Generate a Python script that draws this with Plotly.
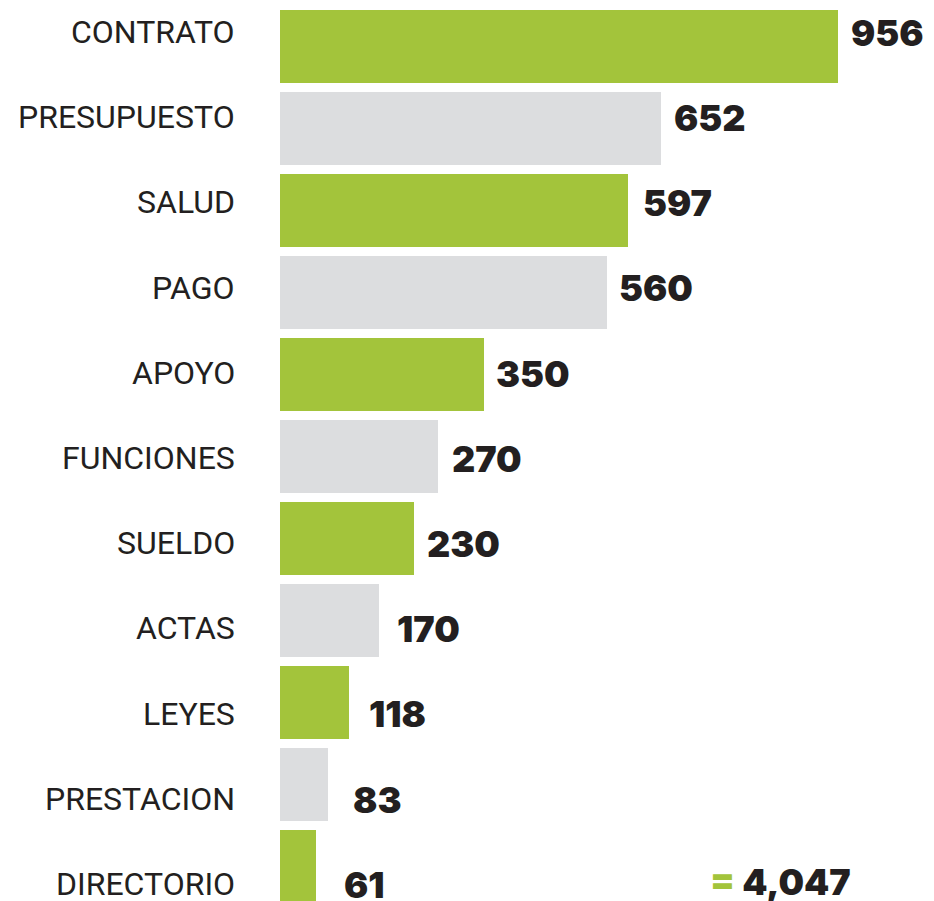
import plotly.graph_objects as go

# word counts
categories = ["CONTRATO", "PRESUPUESTO", "SALUD", "PAGO", "APOYO", "FUNCIONES",
              "SUELDO", "ACTAS", "LEYES", "PRESTACION", "DIRECTORIO"]
values = [956, 652, 597, 560, 350, 270, 230, 170, 118, 83, 61]

GREEN = "#a3c43b"
GRAY = "#dcdddf"
DARK = "#231f20"
colors = [GREEN if i % 2 == 0 else GRAY for i in range(len(values))]
pos = list(range(len(values)))

fig = go.Figure()
fig.add_trace(go.Bar(
    x=values, y=pos, orientation="h", width=0.89,
    marker=dict(color=colors, line=dict(width=0)),
    hoverinfo="skip", showlegend=False,
))

annotations = []
for i, (cat, val) in enumerate(zip(categories, values)):
    annotations.append(dict(
        x=-74, y=i, xref="x", yref="y2", text=cat, showarrow=False,
        xanchor="right", yanchor="middle",
        font=dict(family="Roboto", size=32, color=DARK),
    ))
    annotations.append(dict(
        x=val, y=i + 0.01, xref="x", yref="y2", text=str(val), showarrow=False,
        xanchor="center", yanchor="middle", xshift=49,
        font=dict(family="Inter, Lato, sans-serif", size=36, color=DARK, weight=900),
    ))

total = sum(values)
annotations.append(dict(
    x=780 / 934, y=1 - 882 / 901, xref="paper", yref="paper",
    text=f"<span style='color:{GREEN}'>=</span> {total:,}", showarrow=False,
    xanchor="center", yanchor="middle",
    font=dict(family="Inter, Lato, sans-serif", size=36, color=DARK, weight=900),
))

fig.update_layout(
    width=934, height=901,
    margin=dict(l=0, r=0, t=0, b=0),
    paper_bgcolor="white", plot_bgcolor="white",
    bargap=0,
    xaxis=dict(range=[-479.7, 1120.4], visible=False, fixedrange=True),
    yaxis=dict(range=[10.42, -0.567], visible=False, fixedrange=True),
    yaxis2=dict(range=[10.20, -0.376], visible=False, overlaying="y", fixedrange=True),
    annotations=annotations,
)

fig.write_html("out.html", config={"displayModeBar": False},
               post_script="document.body.style.margin='0';")
